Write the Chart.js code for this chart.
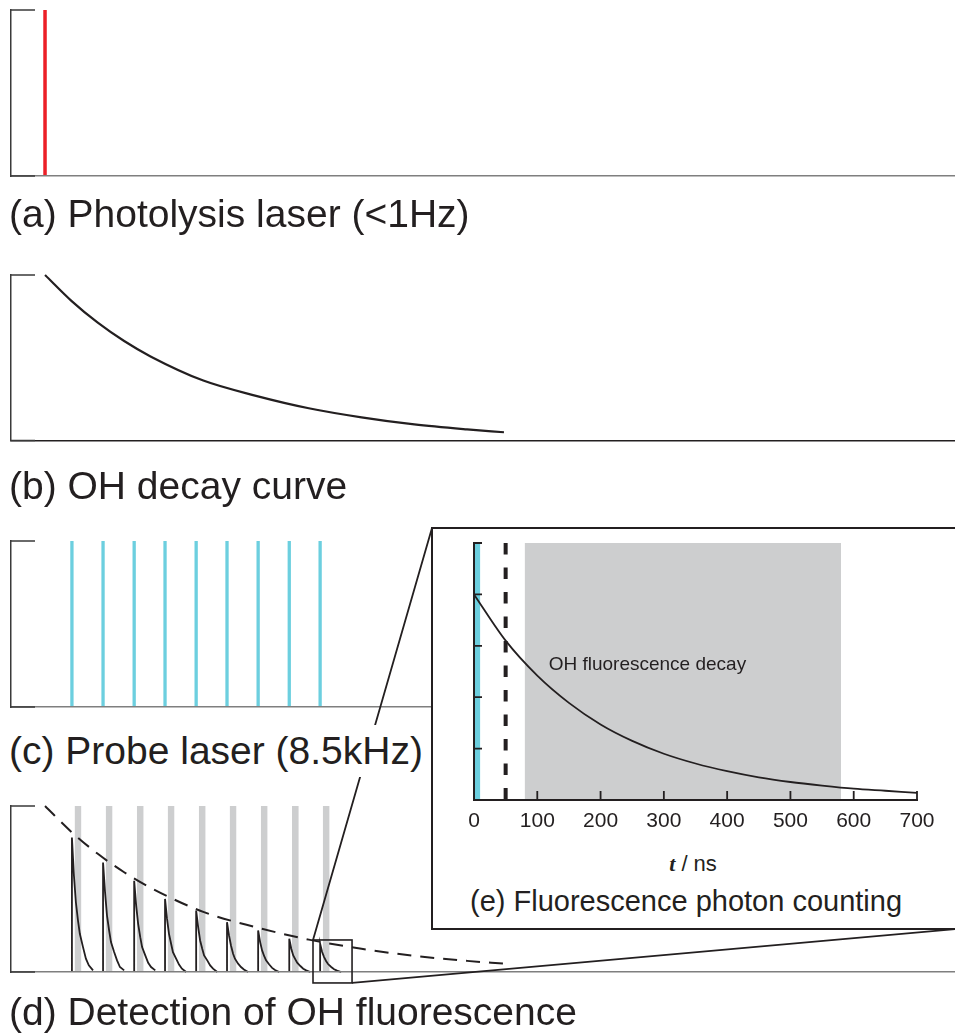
<!DOCTYPE html>
<html>
<head>
<meta charset="utf-8">
<script src="https://cdn.jsdelivr.net/npm/chart.js@4.4.0/dist/chart.umd.min.js"></script>
<style>
  html, body { margin: 0; padding: 0; background: #fff; }
  body { position: relative; width: 955px; height: 1036px; overflow: hidden;
         font-family: "Liberation Sans", Arial, sans-serif; color: #231f20; }
  .panel { position: absolute; left: 0; z-index: 1; }
  #links { position: absolute; left: 0; top: 0; z-index: 2; }
  .caption { position: absolute; left: 9px; font-size: 39px; line-height: 52px; white-space: nowrap; z-index: 3; }
  #inset { position: absolute; left: 431px; top: 527px; width: 527px; height: 403px; box-sizing: border-box;
           border: 2px solid #231f20; background: #fff; z-index: 4; }
  #insetChart { position: absolute; left: 0; top: 0; }
  .axis-title { position: absolute; left: 160px; top: 324px; width: 200px; text-align: center;
                font-size: 22px; line-height: 22px; white-space: nowrap; }
  .axis-title i { font-family: "Liberation Serif", "Times New Roman", serif; font-weight: bold; }
  .inset-caption { position: absolute; left: 37px; top: 358px; font-size: 29px; line-height: 29px; white-space: nowrap; }
</style>
</head>
<body>
<canvas id="photolysis" class="panel" width="955" height="190" style="top:0px"></canvas>
<canvas id="decay" class="panel" width="955" height="195" style="top:260px"></canvas>
<canvas id="probe" class="panel" width="955" height="195" style="top:526px"></canvas>
<canvas id="detection" class="panel" width="955" height="210" style="top:790px"></canvas>
<canvas id="links" width="955" height="1036"></canvas>

<div class="caption" style="top:188px">(a) Photolysis laser (&lt;1Hz)</div>
<div class="caption" style="top:460px">(b) OH decay curve</div>
<div class="caption" style="top:725px; background:#fff">(c) Probe laser (8.5kHz)</div>
<div class="caption" style="top:986px">(d) Detection of OH fluorescence</div>

<div id="inset">
  <canvas id="insetChart" width="523" height="320"></canvas>
  <div class="axis-title"><i>t</i> / ns</div>
  <div class="inset-caption">(e) Fluorescence photon counting</div>
</div>

<script>
// time after the photolysis shot, microseconds
const timeAxisUs = [-129, 3450];
const photolysisUs = [0];
const probeUs = [102, 220, 338, 455, 573, 690, 808, 926, 1043];

// OH concentration after photolysis (normalised)
const decayUs = [0, 100, 200, 300, 400, 600, 800, 1000, 1200, 1400, 1600, 1740];
const ohSignal = [1.0, 0.844, 0.712, 0.601, 0.508, 0.362, 0.27, 0.195, 0.14, 0.097, 0.067, 0.05];

// detector gate, relative to each probe shot
const gateUs = [10, 36];

// fluorescence following each probe shot, sampled at these delays
const traceDelayUs = [0, 7.6, 15, 23, 30, 42, 53, 64, 80];
const fluorTraces = [
  [0.81, 0.58, 0.42, 0.31, 0.23, 0.15, 0.08, 0.04, 0.01],
  [0.66, 0.48, 0.34, 0.25, 0.18, 0.12, 0.07, 0.03, 0.01],
  [0.55, 0.40, 0.29, 0.21, 0.15, 0.10, 0.055, 0.03, 0.01],
  [0.44, 0.32, 0.23, 0.17, 0.12, 0.08, 0.045, 0.02, 0.0],
  [0.37, 0.27, 0.19, 0.14, 0.10, 0.07, 0.04, 0.02, 0.0],
  [0.30, 0.22, 0.16, 0.11, 0.08, 0.05, 0.03, 0.015, 0.0],
  [0.25, 0.18, 0.13, 0.095, 0.07, 0.045, 0.025, 0.012, 0.0],
  [0.20, 0.14, 0.10, 0.076, 0.056, 0.036, 0.02, 0.01, 0.0],
  [0.17, 0.12, 0.09, 0.065, 0.048, 0.03, 0.017, 0.008, 0.0]
];

// part of (d) shown enlarged in (e)
const zoomWindow = { t: [1016, 1164], y: [-0.066, 0.193] };

// (e): one probe shot, nanoseconds
const insetNs = [0, 50, 100, 150, 200, 250, 300, 350, 400, 450, 500, 550, 600, 650, 700];
const insetSignal = [4.0, 3.1, 2.42, 1.89, 1.47, 1.15, 0.9, 0.71, 0.56, 0.44, 0.35, 0.28, 0.22, 0.18, 0.14];
const probePulseNs = [0, 10];
const countGateNs = [80, 580];
const gateDelayNs = 50;

const INK = '#231f20';
const AXIS_INK = '#3a3a3a';
const AXIS_GREY = '#7f7f7f';
const RED = '#ec1f27';
const CYAN = '#6ccfdf';
const GATE = '#cdcecf';
const FONT = '"Liberation Sans", Arial, sans-serif';

Chart.defaults.font.family = FONT;
Chart.defaults.color = INK;

// short tick marks pointing into the plot area
const inwardTicks = {
  id: 'inwardTicks',
  afterDraw(chart, args, o) {
    const { ctx, scales: { x, y } } = chart;
    ctx.save();
    ctx.strokeStyle = o.color || INK;
    ctx.lineWidth = o.width || 1.5;
    ctx.beginPath();
    if (o.y) {
      y.ticks.forEach(function (t) {
        const py = y.getPixelForValue(t.value);
        ctx.moveTo(x.left, py);
        ctx.lineTo(x.left + o.y, py);
      });
    }
    if (o.x) {
      x.ticks.forEach(function (t) {
        if (t.value === x.min) return;
        const px = x.getPixelForValue(t.value);
        ctx.moveTo(px, y.bottom);
        ctx.lineTo(px, y.bottom - o.x);
      });
    }
    ctx.stroke();
    ctx.restore();
  }
};

// rectangle around the region that is enlarged
const zoomFrame = {
  id: 'zoomFrame',
  afterDraw(chart, args, o) {
    if (!o.window) return;
    const { ctx, scales: { x, y } } = chart;
    const x0 = x.getPixelForValue(o.window.t[0]);
    const x1 = x.getPixelForValue(o.window.t[1]);
    const y0 = y.getPixelForValue(o.window.y[0]);
    const y1 = y.getPixelForValue(o.window.y[1]);
    ctx.save();
    ctx.strokeStyle = INK;
    ctx.lineWidth = 1.6;
    ctx.strokeRect(x0, y1, x1 - x0, y0 - y1);
    ctx.restore();
  }
};

// text placed at a data position
const noteLabel = {
  id: 'noteLabel',
  afterDatasetsDraw(chart, args, o) {
    if (!o.text) return;
    const { ctx, scales: { x, y } } = chart;
    ctx.save();
    ctx.font = o.font;
    ctx.fillStyle = INK;
    ctx.textBaseline = 'alphabetic';
    ctx.fillText(o.text, x.getPixelForValue(o.at[0]), y.getPixelForValue(o.at[1]));
    ctx.restore();
  }
};

function vline(t, top, color, width, extra) {
  return Object.assign({
    data: [{ x: t, y: top }, { x: t, y: 0 }],
    borderColor: color, borderWidth: width, pointRadius: 0, clip: false
  }, extra || {});
}

function band(t0, t1, top, color, order) {
  return {
    data: [{ x: t0, y: top }, { x: t1, y: top }],
    fill: 'origin', backgroundColor: color, borderColor: 'rgba(0,0,0,0)',
    borderWidth: 0, pointRadius: 0, order: order
  };
}

function curve(xs, ys, extra) {
  return Object.assign({
    data: xs.map(function (v, i) { return { x: v, y: ys[i] }; }),
    borderColor: INK, borderWidth: 2, pointRadius: 0, clip: false,
    cubicInterpolationMode: 'monotone'
  }, extra || {});
}

function panel(id, datasets, xBorder, padding, frame) {
  return new Chart(document.getElementById(id), {
    type: 'line',
    data: { datasets: datasets },
    options: {
      responsive: false,
      animation: false,
      events: [],
      layout: { padding: padding },
      plugins: {
        legend: { display: false },
        tooltip: { enabled: false },
        inwardTicks: { y: 24, color: AXIS_INK, width: 1.5 },
        zoomFrame: frame || {}
      },
      scales: {
        x: {
          type: 'linear', min: timeAxisUs[0], max: timeAxisUs[1],
          grid: { display: false, drawTicks: false },
          ticks: { display: false },
          border: { color: xBorder, width: 1.5, z: 1 },
          afterFit: function (s) { s.height = 0; }
        },
        y: {
          type: 'linear', min: 0, max: 1,
          grid: { display: false, drawTicks: false },
          ticks: { display: false, stepSize: 1 },
          border: { color: AXIS_INK, width: 1.5, z: 1 },
          afterFit: function (s) { s.width = 0; }
        }
      }
    },
    plugins: [inwardTicks, zoomFrame]
  });
}

// (a) photolysis shot
panel('photolysis',
  photolysisUs.map(function (t) { return vline(t, 1, RED, 3.5); }),
  AXIS_GREY, { left: 11, top: 10, right: 0, bottom: 14 });

// (b) OH decay
panel('decay', [curve(decayUs, ohSignal, { borderWidth: 2.2 })],
  INK, { left: 11, top: 15, right: 0, bottom: 14.5 });

// (c) probe laser shots
panel('probe',
  probeUs.map(function (t) { return vline(t, 1, CYAN, 3.3); }),
  AXIS_GREY, { left: 11, top: 15, right: 0, bottom: 14 });

// (d) gated fluorescence under the decay envelope
const detectionSets = [];
probeUs.forEach(function (t) {
  detectionSets.push(band(t + gateUs[0], t + gateUs[1], 1, GATE, 3));
});
fluorTraces.forEach(function (row, i) {
  const t = probeUs[i];
  const pts = [{ x: t, y: 0 }].concat(row.map(function (v, k) { return { x: t + traceDelayUs[k], y: v }; }));
  detectionSets.push({ data: pts, borderColor: INK, borderWidth: 1.8, pointRadius: 0, clip: false, order: 2 });
});
detectionSets.push(curve(decayUs, ohSignal, { borderDash: [14, 9], borderWidth: 2, order: 1 }));

const detection = panel('detection', detectionSets, AXIS_GREY,
  { left: 11, top: 16, right: 0, bottom: 28 }, { window: zoomWindow });

// (e) single shot, photon counting window
new Chart(document.getElementById('insetChart'), {
  type: 'line',
  data: {
    datasets: [
      curve(insetNs, insetSignal, { borderWidth: 1.8, order: 1 }),
      vline(gateDelayNs, 5, INK, 4, { borderDash: [11.5, 13], order: 2 }),
      band(countGateNs[0], countGateNs[1], 5, GATE, 3),
      band(probePulseNs[0], probePulseNs[1], 5, CYAN, 4)
    ]
  },
  options: {
    responsive: false,
    animation: false,
    events: [],
    layout: { padding: { left: 41, top: 14, right: 39, bottom: 9 } },
    plugins: {
      legend: { display: false },
      tooltip: { enabled: false },
      inwardTicks: { x: 9, y: 8, color: INK, width: 1.8 },
      noteLabel: { text: 'OH fluorescence decay', at: [118, 2.53], font: '19px ' + FONT }
    },
    scales: {
      x: {
        type: 'linear', min: 0, max: 700,
        grid: { display: false, drawTicks: false },
        ticks: { stepSize: 100, padding: 9, color: INK, font: { size: 21 }, maxRotation: 0 },
        border: { color: INK, width: 2, z: 1 },
        afterFit: function (s) { s.height = 40; }
      },
      y: {
        type: 'linear', min: 0, max: 5,
        grid: { display: false, drawTicks: false },
        ticks: { display: false, stepSize: 1 },
        border: { color: INK, width: 2, z: 1 },
        afterFit: function (s) { s.width = 0; }
      }
    }
  },
  plugins: [inwardTicks, noteLabel]
});

// lines joining the enlarged window in (d) to the frame of (e)
(function () {
  const canvas = document.getElementById('detection');
  const frame = document.getElementById('inset');
  const x = detection.scales.x, y = detection.scales.y;
  const left = canvas.offsetLeft + x.getPixelForValue(zoomWindow.t[0]);
  const right = canvas.offsetLeft + x.getPixelForValue(zoomWindow.t[1]);
  const top = canvas.offsetTop + y.getPixelForValue(zoomWindow.y[1]);
  const bottom = canvas.offsetTop + y.getPixelForValue(zoomWindow.y[0]);
  const ctx = document.getElementById('links').getContext('2d');
  ctx.strokeStyle = INK;
  ctx.lineWidth = 1.8;
  ctx.beginPath();
  ctx.moveTo(left, top);
  ctx.lineTo(frame.offsetLeft + 1, frame.offsetTop + 1);
  ctx.moveTo(right, bottom);
  ctx.lineTo(frame.offsetLeft + frame.offsetWidth - 1, frame.offsetTop + frame.offsetHeight - 1);
  ctx.stroke();
})();
</script>
</body>
</html>
